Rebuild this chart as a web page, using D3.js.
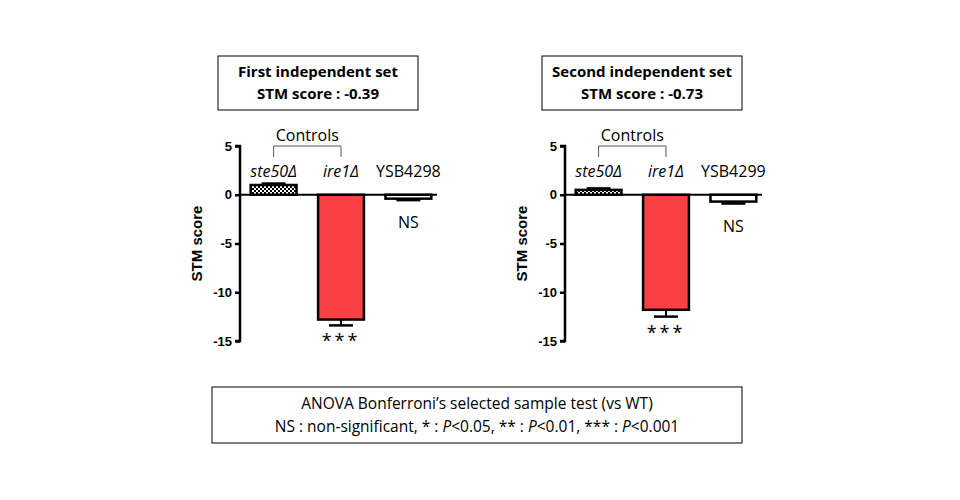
<!DOCTYPE html><html><head><meta charset="utf-8"><script src="https://d3js.org/d3.v7.min.js"></script>
<style>body{margin:0;background:#fff}</style></head><body><svg width="960" height="500"></svg>
<script>
const categories=["ste50Δ","ire1Δ","YSB"];
const panelTitles=["First independent set","Second independent set"];
const panelScores=["STM score : -0.39","STM score : -0.73"];
const strainNames=[["ste50Δ","ire1Δ","YSB4298"],["ste50Δ","ire1Δ","YSB4299"]];
const values=[[1.0,-12.8,-0.4],[0.5,-11.8,-0.7]];
const errors=[[0.15,0.6,0.15],[0.15,0.7,0.2]];
const sig=[[null,"***","NS"],[null,"***","NS"]];
const yTicks=[5,0,-5,-10,-15];
const svg=d3.select("svg");
const defs=svg.append("defs");
const pat=defs.append("pattern").attr("id","chk").attr("width",4).attr("height",4).attr("patternUnits","userSpaceOnUse");
pat.append("rect").attr("width",4).attr("height",4).attr("fill","#fff");
pat.append("rect").attr("width",2).attr("height",2).attr("fill","#000");
pat.append("rect").attr("x",2).attr("y",2).attr("width",2).attr("height",2).attr("fill","#000");
const fills=["url(#chk)","#f94144","#fff"];
const txt="'Open Sans',sans-serif";
const panels=[{ax:240,box:218},{ax:565,box:542}];
panels.forEach((p,i)=>{
  const y=d3.scaleLinear().domain([-15,5]).range([341,146]);
  const x=d3.scaleBand().domain(categories).range([p.ax+8,p.ax+194]).paddingInner(0.32).paddingOuter(0.04);
  const g=svg.append("g");
  g.append("rect").attr("x",p.box).attr("y",56).attr("width",200).attr("height",54).attr("fill","#fff").attr("stroke","#000");
  g.append("text").attr("x",p.box+100).attr("y",77).attr("text-anchor","middle").attr("font-family",txt).attr("font-weight","bold").attr("font-size",15).text(panelTitles[i]);
  g.append("text").attr("x",p.box+100).attr("y",99).attr("text-anchor","middle").attr("font-family",txt).attr("font-weight","bold").attr("font-size",15).text(panelScores[i]);
  const ax=g.append("g").attr("transform",`translate(${p.ax},0)`).call(d3.axisLeft(y).tickValues(yTicks).tickSize(5).tickFormat(d=>String(d)));
  ax.select(".domain").attr("stroke-width",2.5).attr("d",`M-5,${y(5)}H0V${y(-15)}H-5`);
  ax.selectAll(".tick line").attr("stroke-width",2.5);
  ax.selectAll("text").attr("font-family","'Liberation Sans',Arial").attr("font-weight","bold").attr("font-size",13).attr("x",-8);
  g.append("text").attr("transform",`translate(${p.ax-38},${y(-5)}) rotate(-90)`).attr("text-anchor","middle").attr("font-family","'Liberation Sans',Arial").attr("font-weight","bold").attr("font-size",15).text("STM score");
  g.append("line").attr("x1",p.ax).attr("x2",p.ax+197).attr("y1",y(0)).attr("y2",y(0)).attr("stroke","#000").attr("stroke-width",2);
  values[i].forEach((v,j)=>{
    const c=categories[j], bx=x(c), bw=x.bandwidth();
    const e=v+(v<0?-errors[i][j]:errors[i][j]);
    g.append("line").attr("x1",bx+bw/2).attr("x2",bx+bw/2).attr("y1",y(v)).attr("y2",y(e)).attr("stroke","#000").attr("stroke-width",2);
    g.append("line").attr("x1",bx+bw/2-12).attr("x2",bx+bw/2+12).attr("y1",y(e)).attr("y2",y(e)).attr("stroke","#000").attr("stroke-width",2.5);
    g.append("rect").attr("x",bx).attr("width",bw).attr("y",y(Math.max(0,v))).attr("height",Math.abs(y(v)-y(0))).attr("fill",fills[j]).attr("stroke","#000").attr("stroke-width",2.5);
    g.append("text").attr("x",bx+bw/2).attr("y",177).attr("text-anchor","middle").attr("font-family",txt).attr("font-size",16).attr("font-style",j<2?"italic":"normal").text(strainNames[i][j]);
    if(sig[i][j]){
      const isNS=sig[i][j]==="NS";
      const sy=isNS?y(Math.min(v,e))+28:y(e)+22;
      g.append("text").attr("x",bx+bw/2).attr("y",sy).attr("text-anchor","middle").attr("font-family",txt).attr("font-size",isNS?16:18).attr("letter-spacing",isNS?0:3).text(sig[i][j]);
    }
  });
  const c1=x(categories[0])+x.bandwidth()/2, c2=x(categories[1])+x.bandwidth()/2;
  g.append("path").attr("d",`M${c1},157V146H${c2}V157`).attr("fill","none").attr("stroke","#555").attr("stroke-width",1);
  g.append("text").attr("x",(c1+c2)/2).attr("y",141).attr("text-anchor","middle").attr("font-family",txt).attr("font-size",16).text("Controls");
});
svg.append("rect").attr("x",212).attr("y",387).attr("width",530).attr("height",56).attr("fill","#fff").attr("stroke","#000");
svg.append("text").attr("x",477).attr("y",409).attr("text-anchor","middle").attr("font-family",txt).attr("font-size",15.5).text("ANOVA Bonferroni’s selected sample test (vs WT)");
const t=svg.append("text").attr("x",477).attr("y",432).attr("text-anchor","middle").attr("font-family",txt).attr("font-size",15.5);
[["NS : non-significant, * : ",0],["P",1],["<0.05, ** : ",0],["P",1],["<0.01, *** : ",0],["P",1],["<0.001",0]].forEach(([s,it])=>t.append("tspan").attr("font-style",it?"italic":"normal").text(s));
</script></body></html>
